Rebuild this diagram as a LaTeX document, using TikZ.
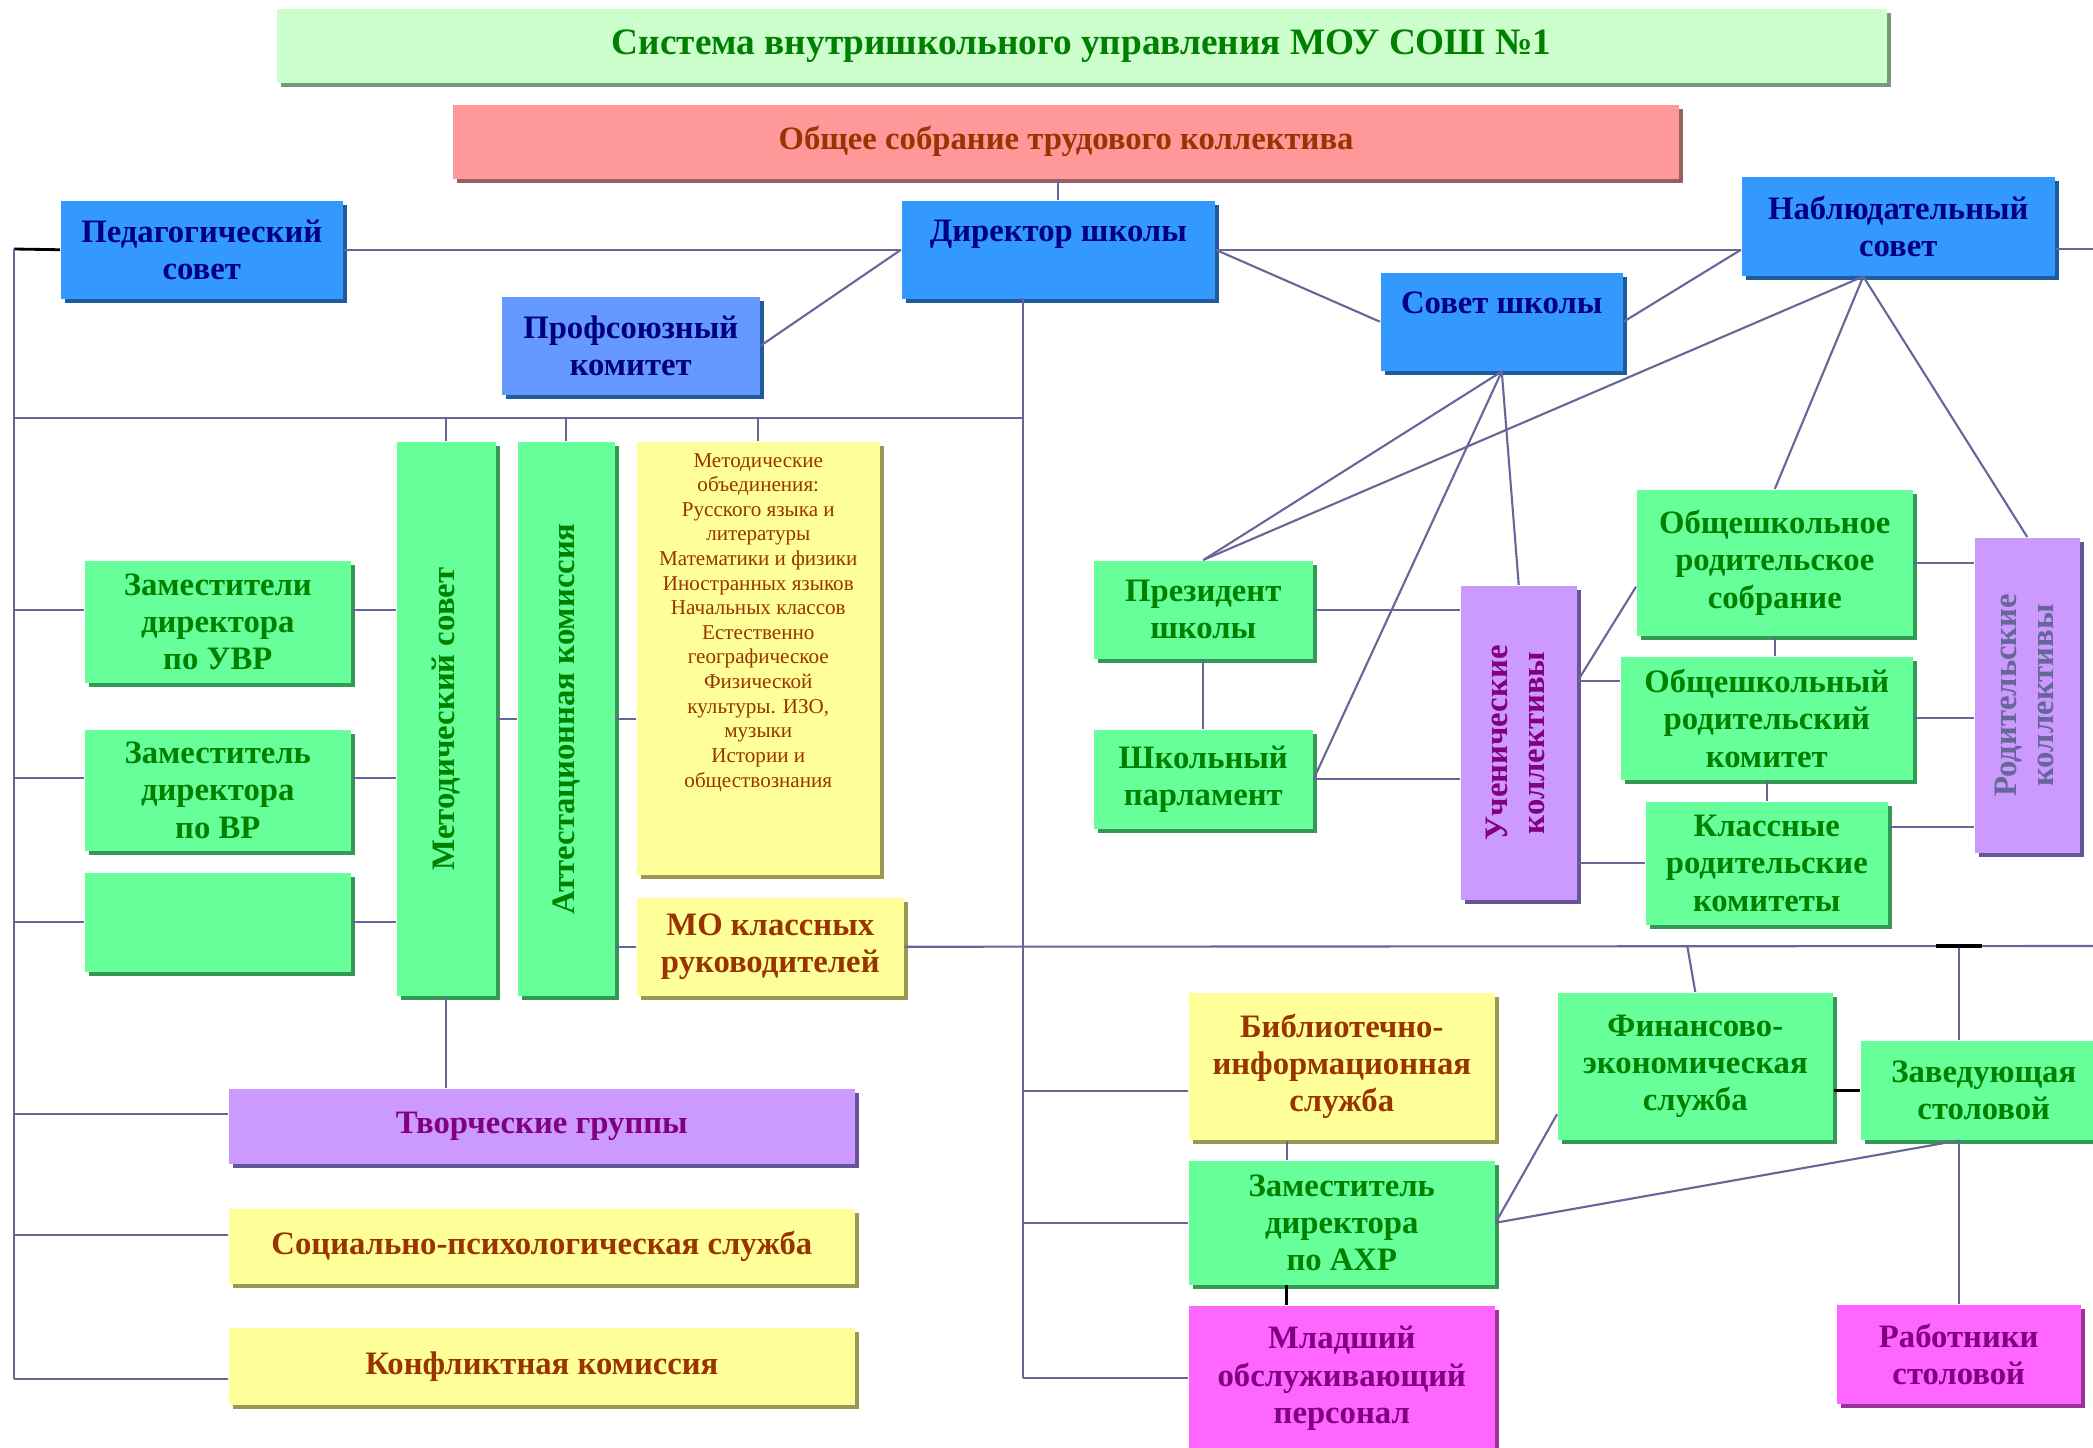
\documentclass[tikz,border=0pt]{standalone}
\usepackage{fontspec}
\setmainfont{Liberation Serif}
\usepackage{graphicx}
\usetikzlibrary{shadows}

\definecolor{linkcol}{HTML}{666699}
\definecolor{titlefill}{HTML}{CCFFCC}
\definecolor{titletext}{HTML}{008000}
\definecolor{titleshade}{HTML}{779977}
\definecolor{meetfill}{HTML}{FF9999}
\definecolor{meetshade}{HTML}{996060}
\definecolor{rust}{HTML}{993300}
\definecolor{bluefill}{HTML}{3399FF}
\definecolor{paleblue}{HTML}{6699FF}
\definecolor{blueshade}{HTML}{1F5A9A}
\definecolor{navytext}{HTML}{000080}
\definecolor{greenfill}{HTML}{66FF99}
\definecolor{greentext}{HTML}{008000}
\definecolor{greenshade}{HTML}{339955}
\definecolor{yellowfill}{HTML}{FFFF99}
\definecolor{yellowshade}{HTML}{999955}
\definecolor{violetfill}{HTML}{CC99FF}
\definecolor{violettext}{HTML}{800080}
\definecolor{violetshade}{HTML}{665599}
\definecolor{slatetext}{HTML}{666699}
\definecolor{pinkfill}{HTML}{FF66FF}
\definecolor{pinkshade}{HTML}{993399}

\newcommand{\cellfont}{\fontsize{9.3}{10.6}\selectfont\bfseries}

\begin{document}
\begin{tikzpicture}[x=0.01cm, y=-0.01cm,
        boxshadow/.style={drop shadow={shadow xshift=0.04cm, shadow yshift=-0.04cm, opacity=1, fill=#1}},
        cell/.style={rectangle, anchor=north west, inner sep=0pt, align=center, font=\cellfont},
        titlebox/.style={cell, fill=titlefill, text=titletext, font=\fontsize{10.6}{13}\selectfont\bfseries, boxshadow=titleshade},
        meetbox/.style={cell, fill=meetfill, text=rust, boxshadow=meetshade},
        bluebox/.style={cell, fill=bluefill, text=navytext, boxshadow=blueshade},
        greenbox/.style={cell, fill=greenfill, text=greentext, boxshadow=greenshade},
        yellowbox/.style={cell, fill=yellowfill, text=rust, boxshadow=yellowshade},
        violetbox/.style={cell, fill=violetfill, text=violettext, boxshadow=violetshade},
        pinkbox/.style={cell, fill=pinkfill, text=violettext, boxshadow=pinkshade},
        link/.style={draw=linkcol, line width=0.6pt},
        blacklink/.style={draw=black, line width=0.8pt},
    ]
    \useasboundingbox (0,0) rectangle (2093,1448);

    % top
    \node[titlebox, minimum width=16.09cm, minimum height=0.74cm] (title) at (276,8) {Система внутришкольного управления МОУ СОШ №1};
    \node[meetbox, minimum width=12.26cm, minimum height=0.74cm] (meeting) at (452,104) {Общее собрание трудового коллектива};
    \node[bluebox, minimum width=2.82cm, minimum height=0.98cm] (pedsovet) at (60,200) {Педагогический\\совет};
    \node[bluebox, minimum width=3.13cm, minimum height=0.98cm] (director) at (901,200) {Директор школы\\~};
    \node[bluebox, minimum width=3.13cm, minimum height=0.99cm] (observers) at (1741,176) {Наблюдательный\\совет};
    \node[bluebox, minimum width=2.42cm, minimum height=0.98cm] (council) at (1380,272) {Совет школы\\~};
    \node[bluebox, fill=paleblue, minimum width=2.58cm, minimum height=0.98cm] (union) at (501,296) {Профсоюзный\\комитет};

    % methodical block
    \node[greenbox, minimum width=0.99cm, minimum height=5.54cm] (metsovet) at (396,441) {\rotatebox{90}{Методический совет}};
    \node[greenbox, minimum width=0.97cm, minimum height=5.54cm] (attest) at (517,441) {\rotatebox{90}{Аттестационная комиссия}};
    \node[yellowbox, minimum width=2.43cm, minimum height=4.33cm] (metunions) at (636,441) {\parbox[c][4.1cm][t]{2.4cm}{\centering\mdseries\fontsize{6}{7}\selectfont
        Методические\\объединения:\\Русского языка и\\литературы\\Математики и физики\\Иностранных языков\\Начальных классов\\Естественно\\географическое\\Физической\\культуры. ИЗО,\\музыки\\Истории и\\обществознания}};
    \node[yellowbox, minimum width=2.67cm, minimum height=0.98cm] (moklass) at (636,897) {МО классных\\руководителей};
    \node[greenbox, minimum width=2.66cm, minimum height=1.22cm] (uvr) at (84,560) {Заместители\\директора\\по УВР};
    \node[greenbox, minimum width=2.66cm, minimum height=1.21cm] (vr) at (84,729) {Заместитель\\директора\\по ВР};
    \node[greenbox, minimum width=2.66cm, minimum height=0.99cm] (spare) at (84,872) {};
    \node[violetbox, minimum width=6.26cm, minimum height=0.75cm] (creative) at (228,1088) {Творческие группы};
    \node[yellowbox, minimum width=6.26cm, minimum height=0.75cm] (psych) at (228,1208) {Социально-психологическая служба};
    \node[yellowbox, minimum width=6.26cm, minimum height=0.77cm] (conflict) at (228,1327) {Конфликтная комиссия};

    % pupils and parents
    \node[greenbox, minimum width=2.19cm, minimum height=0.98cm] (president) at (1093,560) {Президент\\школы};
    \node[greenbox, minimum width=2.19cm, minimum height=0.99cm] (parliament) at (1093,729) {Школьный\\парламент};
    \node[violetbox, minimum width=1.16cm, minimum height=3.14cm] (pupils) at (1460,585) {\rotatebox{90}{\begin{tabular}{@{}c@{}}Ученические\\коллективы\end{tabular}}};
    \node[greenbox, minimum width=2.76cm, minimum height=1.46cm] (parmeeting) at (1636,489) {Общешкольное\\родительское\\собрание};
    \node[greenbox, minimum width=2.92cm, minimum height=1.23cm] (parcommittee) at (1620,656) {Общешкольный\\родительский\\комитет};
    \node[greenbox, minimum width=2.42cm, minimum height=1.23cm] (classcomm) at (1645,801) {Классные\\родительские\\комитеты};
    \node[violetbox, text=slatetext, minimum width=1.05cm, minimum height=3.15cm] (parents) at (1974,537) {\rotatebox{90}{\begin{tabular}{@{}c@{}}Родительские\\коллективы\end{tabular}}};

    % services
    \node[yellowbox, minimum width=3.06cm, minimum height=1.47cm] (library) at (1188,992) {Библиотечно-\\информационная\\служба};
    \node[greenbox, minimum width=2.75cm, minimum height=1.47cm] (finance) at (1557,992) {Финансово-\\экономическая\\служба};
    \node[greenbox, minimum width=2.46cm, minimum height=0.99cm] (canteenhead) at (1860,1040) {Заведующая\\столовой};
    \node[greenbox, minimum width=3.06cm, minimum height=1.24cm] (axr) at (1188,1160) {Заместитель\\директора\\по АХР};
    \node[pinkbox, minimum width=3.06cm, minimum height=1.45cm] (junior) at (1188,1305) {Младший\\обслуживающий\\персонал};
    \node[pinkbox, minimum width=2.44cm, minimum height=0.99cm] (canteenstaff) at (1836,1304) {Работники\\столовой};

    % rails
    \coordinate (lbus) at (14,249);
    \coordinate (dbus) at (1023,298);
    \coordinate (railL) at (14,418);
    \coordinate (railR) at (1023,418);
    \coordinate (topedge) at (2093,249);
    \coordinate (lowrail) at (2093,946);
    \coordinate (conflport) at ([yshift=-0.13cm]conflict.west);
    \coordinate (obsfoot) at ([xshift=-0.35cm]observers.south);
    \coordinate (libport) at ([yshift=-0.25cm]library.west);
    \coordinate (pupport) at ([yshift=0.37cm]parcommittee.west);
    \coordinate (meetport) at ([yshift=-0.24cm]parmeeting.west);
    \coordinate (classport) at ([yshift=0.36cm]classcomm.east);
    \coordinate (finport) at ([xshift=-0.08cm]finance.north);
    \coordinate (finside) at ([yshift=-0.48cm]finance.west);
    \coordinate (libfoot) at ([xshift=-0.55cm]library.south);
    \coordinate (axrfoot) at ([xshift=-0.55cm]axr.south);
    \coordinate (tickL) at ([xshift=-0.23cm]canteenstaff.north |- lowrail);
    \coordinate (tickR) at ([xshift=0.23cm]canteenstaff.north |- lowrail);

    % top links
    \draw[link] (meeting.south -| director.north) -- (director.north);
    \draw[blacklink] (lbus) -- (pedsovet.west);
    \draw[link] (lbus) -- (lbus |- conflport);
    \draw[link] (pedsovet.east) -- (director.west);
    \draw[link] (director.east) -- (director.east -| observers.west);
    \draw[link] (observers.east |- topedge) -- (topedge);
    \draw[link] (director.west) -- (union.east);
    \draw[link] (director.east) -- (council.west);
    \draw[link] (council.east) -- (observers.west |- director.east);

    % left side
    \draw[link] (railL) -- (railR);
    \foreach \n in {metsovet, attest, metunions}
        \draw[link] (\n.north) -- (\n.north |- railL);
    \foreach \n/\s in {uvr/0.12, vr/0.12, spare/0, creative/0.12, psych/0.11, conflict/-0.13}
        \draw[link] ([yshift=\s cm]\n.west) -- ([yshift=\s cm]\n.west -| lbus);
    \foreach \n/\s in {uvr/0.12, vr/0.12, spare/0}
        \draw[link] ([yshift=\s cm]\n.east) -- ([yshift=\s cm]\n.east -| metsovet.west);
    \draw[link] (metsovet.east) -- (attest.west);
    \draw[link] (attest.east) -- (attest.east -| metunions.west);
    \draw[link] (moklass.west) -- (moklass.west -| attest.east);
    \draw[link] (metsovet.south) -- (metsovet.south |- creative.north);

    % director bus
    \draw[link] (dbus) -- (dbus |- junior.west);
    \draw[link] (libport) -- (libport -| dbus);
    \draw[link] (axr.west) -- (axr.west -| dbus);
    \draw[link] (junior.west) -- (junior.west -| dbus);
    \draw[link] (moklass.east) -- (lowrail);

    % council and observers
    \foreach \n in {president.north, parliament.east, pupils.north}
        \draw[link] (council.south) -- (\n);
    \foreach \n in {president.north, parmeeting.north, parents.north}
        \draw[link] (obsfoot) -- (\n);

    % pupils and parents
    \draw[link] (president.east) -- (president.east -| pupils.west);
    \draw[link] (parliament.east) -- (parliament.east -| pupils.west);
    \draw[link] (president.south) -- (parliament.north);
    \draw[link] (pupport) -- (pupport -| pupils.east);
    \draw[link] (pupport -| pupils.east) -- (meetport);
    \draw[link] (classcomm.west) -- (classcomm.west -| pupils.east);
    \draw[link] (parmeeting.south) -- (parmeeting.south |- parcommittee.north);
    \draw[link] (classcomm.north) -- (classcomm.north |- parcommittee.south);
    \draw[link] (parmeeting.east) -- (parmeeting.east -| parents.west);
    \draw[link] (parcommittee.east) -- (parcommittee.east -| parents.west);
    \draw[link] (classport) -- (classport -| parents.west);

    % services
    \draw[link] (finport |- lowrail) -- (finance.north);
    \draw[link] (canteenstaff.north |- lowrail) -- (canteenstaff.north |- canteenhead.north);
    \draw[blacklink, line width=1.4pt] (tickL) -- (tickR);
    \draw[blacklink] (canteenhead.west) -- (canteenhead.west -| finance.east);
    \draw[link] (libfoot) -- (libfoot |- axr.north);
    \draw[blacklink] (axrfoot) -- (axrfoot |- junior.north);
    \draw[link] (axr.east) -- (finside);
    \draw[link] (axr.east) -- (canteenstaff.north |- canteenhead.south);
    \draw[link] (canteenstaff.north) -- (canteenstaff.north |- canteenhead.south);
\end{tikzpicture}
\end{document}
